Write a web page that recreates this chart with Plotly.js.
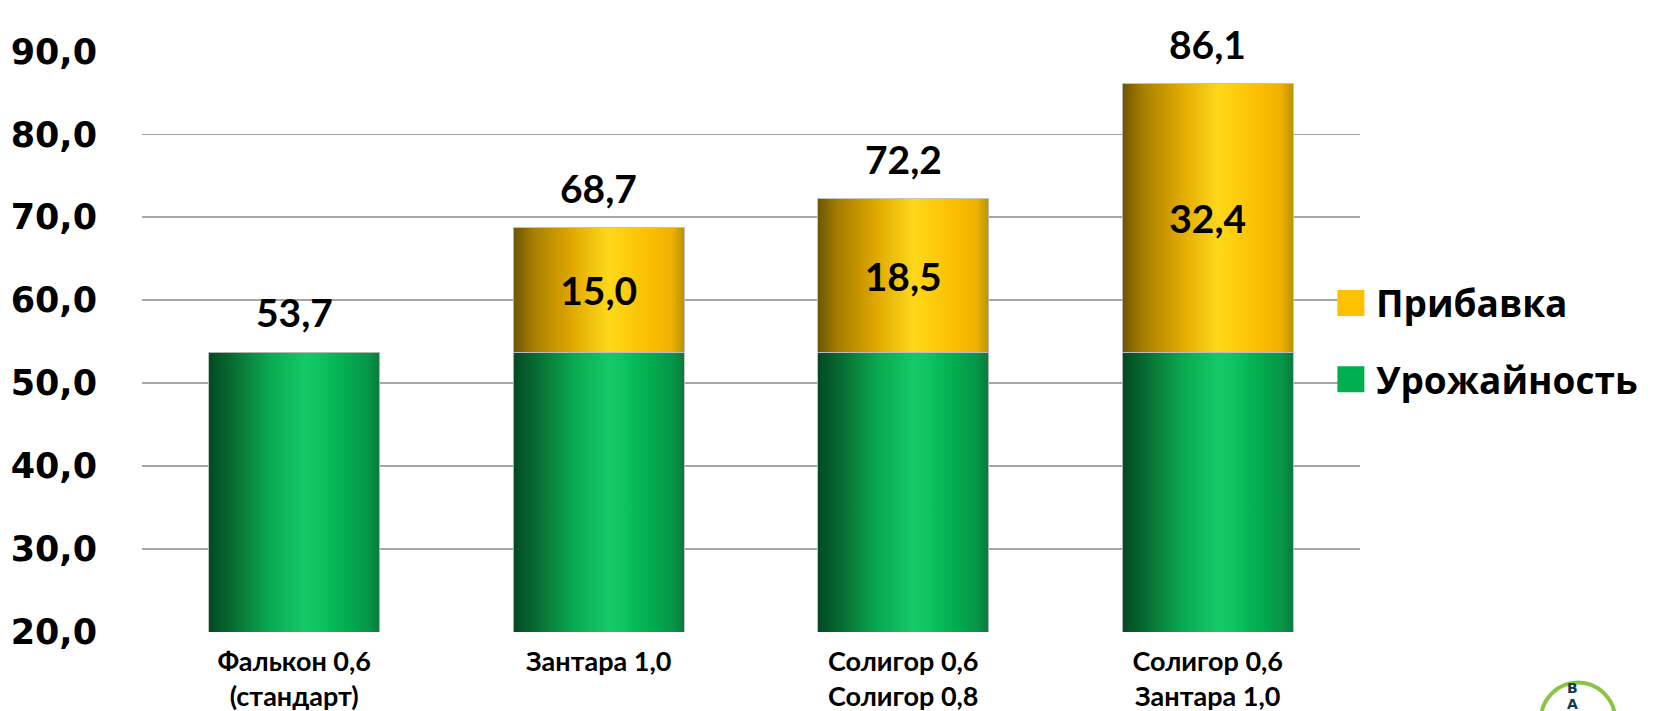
<!DOCTYPE html>
<html>
<head>
<meta charset="utf-8">
<script src="https://cdn.plot.ly/plotly-3.0.1.min.js"></script>
<style>
  html, body { margin: 0; padding: 0; background: #ffffff; }
  #chart { width: 1658px; height: 711px; }
</style>
</head>
<body>
<div id="chart"></div>
<script>
// ---- data ----
const categories = ["Фалькон 0,6<br>(стандарт)", "Зантара 1,0", "Солигор 0,6<br>Солигор 0,8", "Солигор 0,6<br>Зантара 1,0"];
const yieldValues = [53.7, 53.7, 53.7, 53.7];      // Урожайность
const increaseValues = [null, 15.0, 18.5, 32.4];    // Прибавка
const totalValues = [53.7, 68.7, 72.2, 86.1];
const seriesNames = ["Урожайность", "Прибавка"];
const yTicks = [20, 30, 40, 50, 60, 70, 80, 90];

const GREEN = "#00B050", GOLD = "#FFC000";
const labelFont = { family: "Lato, 'Open Sans', sans-serif", size: 39, color: "#000000", weight: 700 };

const traces = [
  {
    type: "bar", x: categories, y: yieldValues, name: seriesNames[0],
    legendgroup: "g1", legendrank: 2,
    marker: { color: GREEN, line: { color: "rgba(190,190,190,0.9)", width: 1 } },
    hoverinfo: "skip"
  },
  {
    type: "bar", x: categories, y: increaseValues, name: seriesNames[1],
    legendgroup: "g2", legendrank: 1,
    marker: { color: GOLD, line: { color: "rgba(190,190,190,0.9)", width: 1 } },
    texttemplate: "%{y:.1f}", textposition: "inside", insidetextanchor: "middle",
    textfont: labelFont, constraintext: "none",
    hoverinfo: "skip"
  }
];

const annotations = categories.map((c, i) => ({
  x: c, y: totalValues[i], xref: "x", yref: "y",
  text: totalValues[i].toFixed(1).replace(".", ","),
  showarrow: false, yanchor: "bottom", yshift: 15,
  font: labelFont
}));
// decorative logo letters (bottom-right corner)
annotations.push({ xref: "paper", yref: "paper", x: 1.1806, y: -0.113, text: "B", showarrow: false,
  font: { family: "DejaVu Sans", size: 14, color: "#10384f", weight: 700 } });
annotations.push({ xref: "paper", yref: "paper", x: 1.1806, y: -0.141, text: "A", showarrow: false,
  font: { family: "DejaVu Sans", size: 14, color: "#10384f", weight: 700 } });

const layout = {
  width: 1658, height: 711,
  margin: { l: 142, r: 298, t: 51, b: 79, pad: 0 },
  paper_bgcolor: "#ffffff", plot_bgcolor: "#ffffff",
  separators: ", ",
  barmode: "stack",
  bargap: 0.438,
  showlegend: true,
  legend: {
    x: 0.972, xanchor: "left", y: 0.5, yanchor: "middle",
    traceorder: "grouped", tracegroupgap: 25,
    itemwidth: 40,
    font: { family: "'Open Sans', Lato, sans-serif", size: 37, color: "#000000", weight: 700 },
    bgcolor: "rgba(0,0,0,0)", borderwidth: 0
  },
  xaxis: {
    type: "category",
    showgrid: false, showline: false, zeroline: false, ticks: "",
    tickfont: { family: "Lato, 'Open Sans', sans-serif", size: 27, color: "#000000", weight: 700 },
    ticklabelstandoff: 11,
    fixedrange: true
  },
  yaxis: {
    range: [19.95, 90.05],
    tickvals: yTicks,
    tickformat: ".1f",
    showgrid: true, gridcolor: "#a6a6a6", gridwidth: 1.6,
    showline: false, zeroline: false, ticks: "",
    tickfont: { family: "'DejaVu Sans', sans-serif", size: 35, color: "#000000", weight: 700 },
    ticklabelstandoff: 44,
    fixedrange: true
  },
  annotations: annotations,
  shapes: [
    { type: "circle", xref: "paper", yref: "paper", x0: 1.1486, x1: 1.2094, y0: -0.214, y1: -0.087,
      line: { color: "#89c540", width: 4 }, layer: "above" }
  ]
};

Plotly.newPlot("chart", traces, layout, { displayModeBar: false, staticPlot: true }).then(gd => {
  const svgNS = "http://www.w3.org/2000/svg";
  const svg = gd.querySelector("svg.main-svg");
  let defs = svg.querySelector("defs");
  if (!defs) { defs = document.createElementNS(svgNS, "defs"); svg.insertBefore(defs, svg.firstChild); }
  function addGrad(id, stops) {
    const g = document.createElementNS(svgNS, "linearGradient");
    g.setAttribute("id", id);
    g.setAttribute("x1", "0"); g.setAttribute("x2", "1");
    g.setAttribute("y1", "0"); g.setAttribute("y2", "0");
    stops.forEach(([o, c]) => {
      const s = document.createElementNS(svgNS, "stop");
      s.setAttribute("offset", o); s.setAttribute("stop-color", c);
      g.appendChild(s);
    });
    defs.appendChild(g);
  }
  addGrad("gradGreen", [["0", "#024a22"], ["0.12", "#06682f"], ["0.35", "#0aa850"], ["0.56", "#15c967"],
                        ["0.64", "#0fc461"], ["0.8", "#03ad4f"], ["0.93", "#06964a"], ["1", "#0b7a3a"]]);
  addGrad("gradGold", [["0", "#6e5400"], ["0.12", "#a67e00"], ["0.35", "#e2aa00"], ["0.56", "#fed81c"],
                       ["0.64", "#fdd010"], ["0.8", "#fbbe00"], ["0.93", "#efb000"], ["1", "#b89400"]]);
  const barTraces = gd.querySelectorAll(".barlayer .trace");
  const ids = ["gradGreen", "gradGold"];
  barTraces.forEach((t, i) => {
    t.querySelectorAll("path").forEach(p => { p.style.fill = "url(#" + ids[i] + ")"; });
  });
  gd.querySelectorAll(".legend .legendpoints path").forEach(p => {
    p.setAttribute("d", "M13.5,13H-13.5V-13H13.5Z");
    p.style.strokeWidth = "0";
  });
});
</script>
</body>
</html>
